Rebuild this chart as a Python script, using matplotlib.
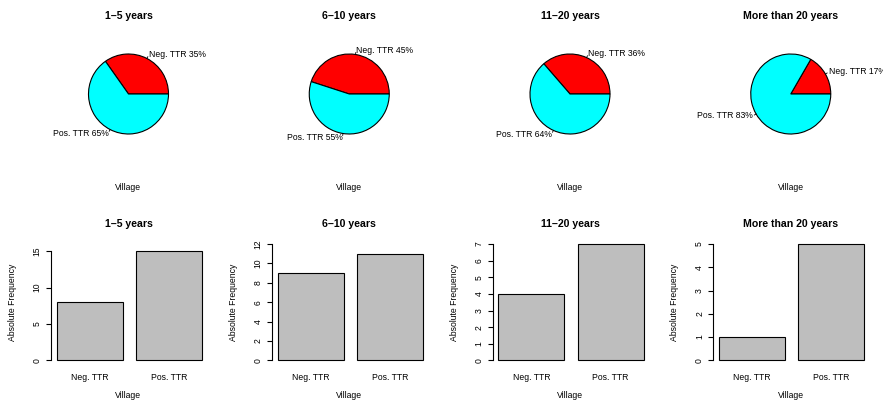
import numpy as np
import matplotlib
matplotlib.use("Agg")
import matplotlib.pyplot as plt

plt.rcParams['font.family'] = ['Liberation Sans', 'DejaVu Sans']

# data
groups = ["1\u20135 years", "6\u201310 years", "11\u201320 years", "More than 20 years"]
categories = ["Neg. TTR", "Pos. TTR"]
neg_counts = [8, 9, 4, 1]
pos_counts = [15, 11, 7, 5]
y_tops = [16, 12, 7, 5]
y_ticks = [[0, 5, 10, 15], [0, 2, 4, 6, 8, 10, 12], list(range(0, 8)), list(range(0, 6))]

pie_colors = ["red", "cyan"]
bar_color = "#bebebe"

W, H = 883, 401
fig = plt.figure(figsize=(W / 100, H / 100), dpi=100)


def fx(x):
    return x / W


def fy(y):
    return 1 - y / H


col_w = W / 4
small = 6.2
title_fs = 7.6

for i, grp in enumerate(groups):
    col = i * col_w
    cx = col + 128.5
    counts = [neg_counts[i], pos_counts[i]]

    # ---- pie ----
    pcy = 94
    half = 50
    ax = fig.add_axes([fx(cx - half), fy(pcy + half), 2 * half / W, 2 * half / H])
    ax.axis("off")
    r = 0.8
    ax.pie(counts, colors=pie_colors, startangle=0, counterclock=True, radius=r,
           wedgeprops=dict(edgecolor="black", linewidth=0.8))
    ax.set_xlim(-1, 1)
    ax.set_ylim(-1, 1)
    tot = sum(counts)
    cum = 0
    for lab, c in zip(categories, counts):
        mid = 2 * np.pi * (cum + c / 2) / tot
        cum += c
        px, py = np.cos(mid), np.sin(mid)
        ax.plot([r * px, 1.05 * r * px], [r * py, 1.05 * r * py], color="black", lw=0.6,
                clip_on=False)
        pct = int(round(100 * c / tot))
        ax.text(1.1 * r * px, 1.1 * r * py, f"{lab} {pct}%", fontsize=small,
                ha="left" if px > 0 else "right", va="center", clip_on=False)
    fig.text(fx(cx), fy(16), grp, fontsize=title_fs, fontweight="bold", ha="center", va="center")
    fig.text(fx(cx), fy(188), "Village", fontsize=small, ha="center", va="center")

    # ---- bars ----
    top_px, bot_px = 239.4, 365.0
    left_px, right_px = col + 51, col + 208
    bx = fig.add_axes([fx(left_px), fy(bot_px), (right_px - left_px) / W, (bot_px - top_px) / H])
    pos = [0.7, 1.9]
    bx.bar(pos, counts, width=1.0, color=bar_color, edgecolor="black", linewidth=0.8)
    bx.set_xlim(0.112, 2.488)
    ext = 0.04 * y_tops[i]
    bx.set_ylim(-ext, y_tops[i] + ext)
    for s in ["top", "right", "bottom"]:
        bx.spines[s].set_visible(False)
    bx.spines["left"].set_bounds(y_ticks[i][0], y_ticks[i][-1])
    bx.spines["left"].set_linewidth(0.8)
    bx.set_yticks(y_ticks[i])
    bx.tick_params(axis="y", labelsize=small, length=3.6, width=0.8, pad=3, labelrotation=90)
    for t in bx.get_yticklabels():
        t.set_va("center")
    bx.set_xticks(pos, categories)
    bx.tick_params(axis="x", length=0, labelsize=small, pad=6)
    bx.set_ylabel("Absolute Frequency", fontsize=small)
    bx.yaxis.set_label_coords(-34 / (right_px - left_px), 0.5)
    fig.text(fx(cx), fy(224), grp, fontsize=title_fs, fontweight="bold", ha="center", va="center")
    fig.text(fx(cx), fy(396), "Village", fontsize=small, ha="center", va="center")

fig.savefig("out.png", dpi=100)
